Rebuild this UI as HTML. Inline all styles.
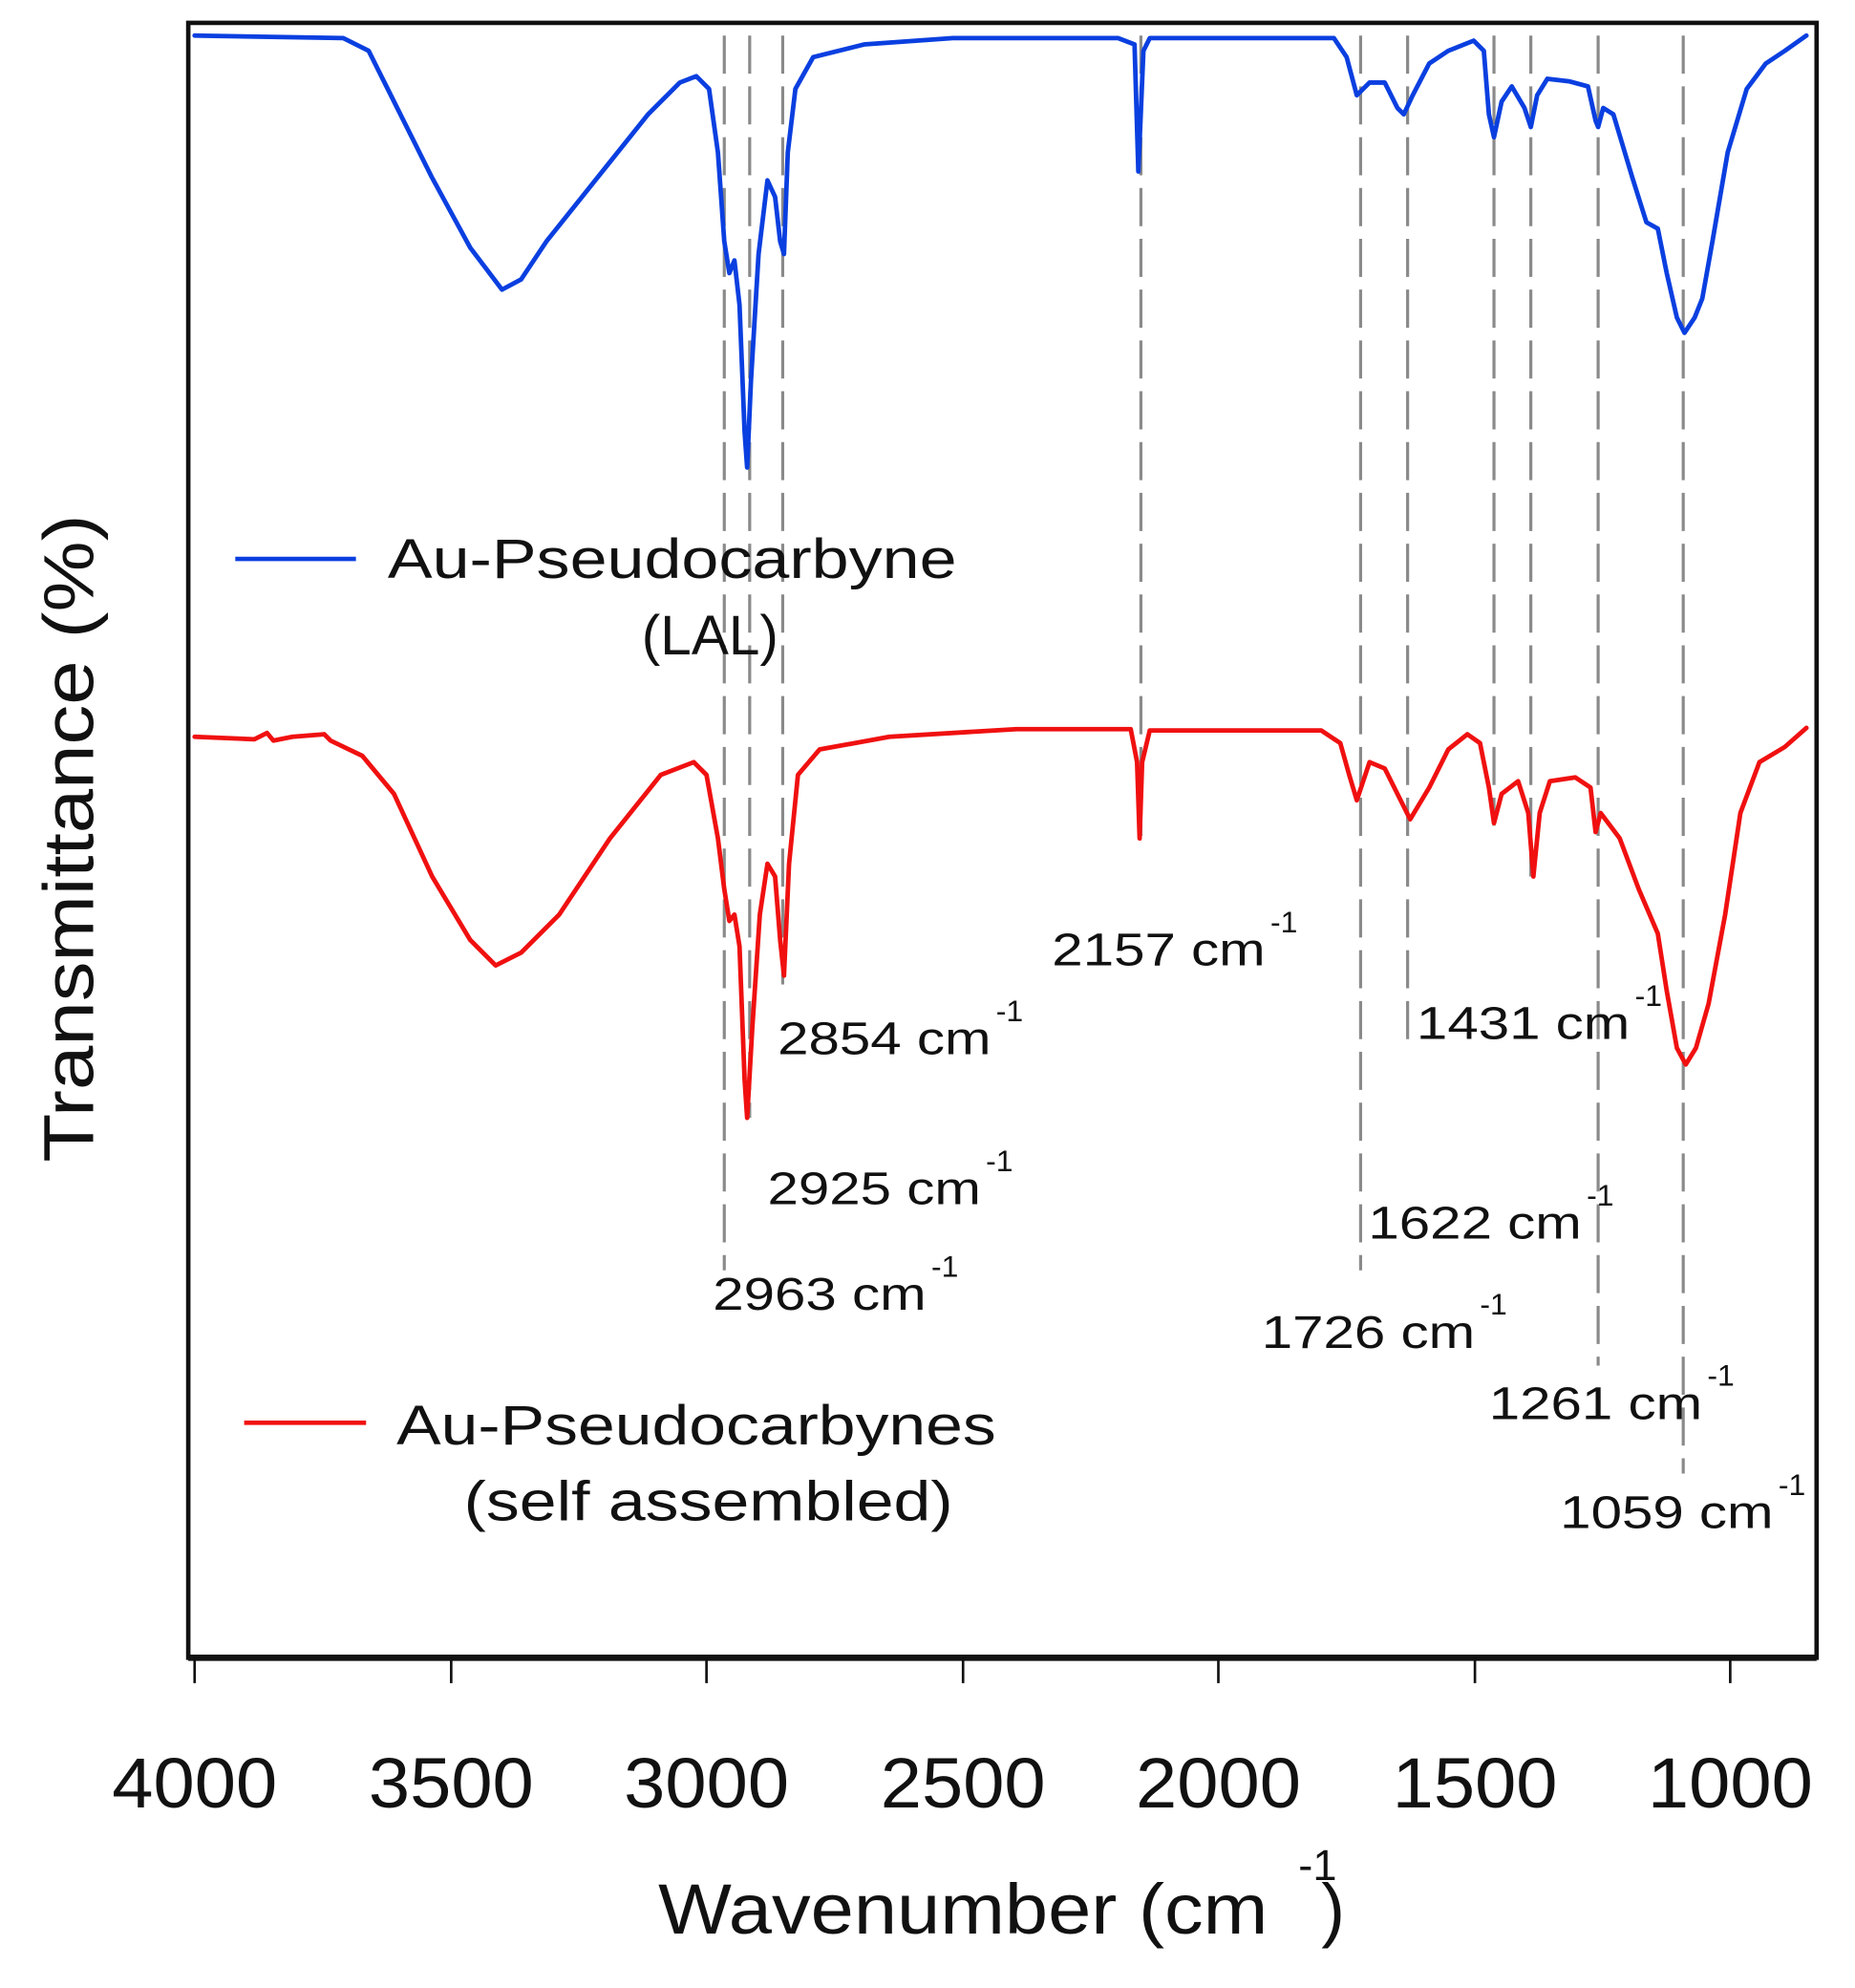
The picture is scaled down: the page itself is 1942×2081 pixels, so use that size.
<!DOCTYPE html>
<html><head><meta charset="utf-8"><style>
html,body{margin:0;padding:0;background:#fff;}
svg{display:block;}
text{font-family:"Liberation Sans",sans-serif;fill:#111;}
</style></head><body>
<svg width="1942" height="2081" viewBox="0 0 1460 1565" xmlns="http://www.w3.org/2000/svg">
<g stroke="#8a8a8a" stroke-width="2.4" stroke-dasharray="30,10" fill="none">
<line x1="570" y1="28" x2="570" y2="1000"/>
<line x1="590" y1="28" x2="590" y2="880"/>
<line x1="616" y1="28" x2="616" y2="775"/>
<line x1="898" y1="28" x2="898" y2="665"/>
<line x1="1071" y1="28" x2="1071" y2="1000"/>
<line x1="1108" y1="28" x2="1108" y2="825"/>
<line x1="1176" y1="28" x2="1176" y2="650"/>
<line x1="1205" y1="28" x2="1205" y2="690"/>
<line x1="1258" y1="28" x2="1258" y2="1075"/>
<line x1="1325" y1="28" x2="1325" y2="1160"/>
</g>
<polyline fill="none" stroke="#0a3fe0" stroke-width="3.6" stroke-linejoin="round" stroke-linecap="round" points="153,28 270,30 290,40 310,80 340,140 370,195 395,228 410,220 430,190 470,140 510,90 535,65 548,60 558,70 565,120 570,190 574,215 578,205 582,240 586,340 588,368 591,300 597,200 604,142 610,155 614,190 617,200 620,120 626,70 640,45 680,35 750,30 880,30 893,35 896,135 900,40 905,30 1050,30 1060,45 1068,75 1078,65 1090,65 1100,85 1105,90 1112,75 1125,50 1140,40 1160,32 1168,40 1172,90 1176,108 1182,80 1190,68 1200,85 1205,100 1210,75 1218,62 1235,64 1250,68 1256,95 1258,100 1262,85 1270,90 1285,140 1296,175 1305,180 1312,215 1320,250 1326,262 1334,250 1340,235 1348,190 1360,120 1375,70 1390,50 1405,40 1422,28"/>
<polyline fill="none" stroke="#f01010" stroke-width="3.6" stroke-linejoin="round" stroke-linecap="round" points="153,580 200,582 210,577 215,583 230,580 255,578 260,583 285,595 310,625 340,690 370,740 390,760 410,750 440,720 480,660 520,610 546,600 556,610 565,660 570,700 574,725 578,720 582,745 586,850 588,880 592,810 598,720 604,680 610,690 614,740 617,768 621,680 628,610 645,590 700,580 800,574 890,574 895,600 897,660 899,600 905,575 1040,575 1055,585 1062,610 1068,630 1078,600 1090,605 1100,625 1110,645 1125,620 1140,590 1155,578 1165,585 1172,620 1176,648 1182,625 1195,615 1203,640 1207,690 1212,640 1220,615 1240,612 1252,620 1256,655 1260,640 1275,660 1290,700 1305,735 1312,780 1320,825 1327,838 1335,825 1345,790 1358,720 1370,640 1385,600 1405,588 1422,573"/>
<rect x="148" y="18" width="1282" height="1287" fill="none" stroke="#111" stroke-width="3.5"/>
<line x1="148" y1="1305" x2="1430" y2="1305" stroke="#111" stroke-width="5"/>
<g stroke="#111" stroke-width="2">
<line x1="153" y1="1305" x2="153" y2="1325"/><line x1="355" y1="1305" x2="355" y2="1325"/>
<line x1="556" y1="1305" x2="556" y2="1325"/><line x1="758" y1="1305" x2="758" y2="1325"/>
<line x1="959" y1="1305" x2="959" y2="1325"/><line x1="1161" y1="1305" x2="1161" y2="1325"/>
<line x1="1362" y1="1305" x2="1362" y2="1325"/>
</g>
<g font-size="56" text-anchor="middle">
<text x="153" y="1423" textLength="130" lengthAdjust="spacingAndGlyphs">4000</text>
<text x="355" y="1423" textLength="130" lengthAdjust="spacingAndGlyphs">3500</text>
<text x="556" y="1423" textLength="130" lengthAdjust="spacingAndGlyphs">3000</text>
<text x="758" y="1423" textLength="130" lengthAdjust="spacingAndGlyphs">2500</text>
<text x="959" y="1423" textLength="130" lengthAdjust="spacingAndGlyphs">2000</text>
<text x="1161" y="1423" textLength="130" lengthAdjust="spacingAndGlyphs">1500</text>
<text x="1362" y="1423" textLength="130" lengthAdjust="spacingAndGlyphs">1000</text>
</g>
<text x="518" y="1522" font-size="56" textLength="480" lengthAdjust="spacingAndGlyphs">Wavenumber (cm</text>
<text x="1022" y="1480" font-size="34">-1</text>
<text x="1040" y="1522" font-size="56">)</text>
<text transform="translate(73,660) rotate(-90)" font-size="56" text-anchor="middle" textLength="510" lengthAdjust="spacingAndGlyphs">Transmittance (%)</text>
<line x1="185" y1="440" x2="280" y2="440" stroke="#0a3fe0" stroke-width="3.5"/>
<text x="305" y="455" font-size="44" textLength="448" lengthAdjust="spacingAndGlyphs">Au-Pseudocarbyne</text>
<text x="505" y="515" font-size="44">(LAL)</text>
<line x1="192" y1="1120" x2="288" y2="1120" stroke="#f01010" stroke-width="3.5"/>
<text x="312" y="1137" font-size="44" textLength="472" lengthAdjust="spacingAndGlyphs">Au-Pseudocarbynes</text>
<text x="365" y="1197" font-size="44" textLength="385" lengthAdjust="spacingAndGlyphs">(self assembled)</text>
<g font-size="36">
<text x="828" y="760" textLength="168" lengthAdjust="spacingAndGlyphs">2157 cm</text><text x="1000" y="734" font-size="24">-1</text>
<text x="612" y="830" textLength="168" lengthAdjust="spacingAndGlyphs">2854 cm</text><text x="784" y="804" font-size="24">-1</text>
<text x="1115" y="818" textLength="168" lengthAdjust="spacingAndGlyphs">1431 cm</text><text x="1287" y="792" font-size="24">-1</text>
<text x="604" y="948" textLength="168" lengthAdjust="spacingAndGlyphs">2925 cm</text><text x="776" y="922" font-size="24">-1</text>
<text x="1077" y="975" textLength="168" lengthAdjust="spacingAndGlyphs">1622 cm</text><text x="1249" y="949" font-size="24">-1</text>
<text x="561" y="1031" textLength="168" lengthAdjust="spacingAndGlyphs">2963 cm</text><text x="733" y="1005" font-size="24">-1</text>
<text x="993" y="1061" textLength="168" lengthAdjust="spacingAndGlyphs">1726 cm</text><text x="1165" y="1035" font-size="24">-1</text>
<text x="1172" y="1117" textLength="168" lengthAdjust="spacingAndGlyphs">1261 cm</text><text x="1344" y="1091" font-size="24">-1</text>
<text x="1228" y="1203" textLength="168" lengthAdjust="spacingAndGlyphs">1059 cm</text><text x="1400" y="1177" font-size="24">-1</text>
</g>
</svg>
</body></html>
